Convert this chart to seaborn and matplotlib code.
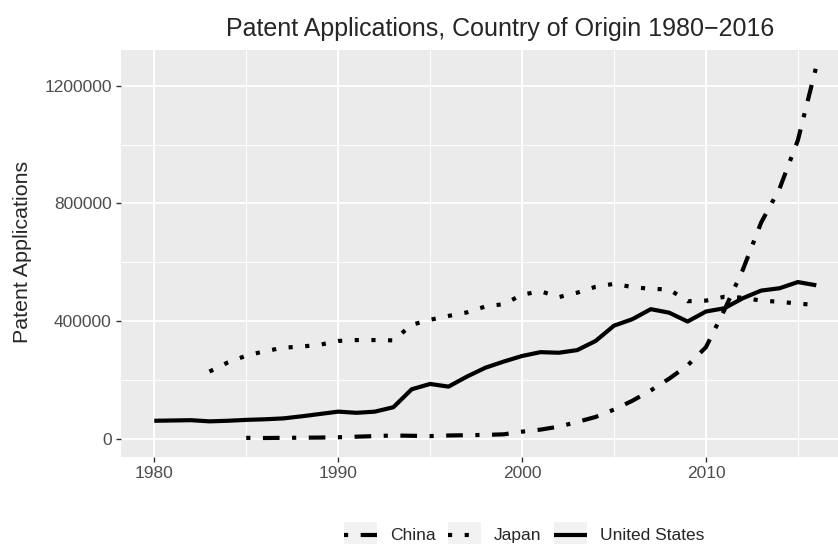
import pandas as pd
import matplotlib.pyplot as plt
import seaborn as sns
from matplotlib.lines import Line2D
from matplotlib.patches import Rectangle
from matplotlib.legend_handler import HandlerLine2D
from matplotlib.ticker import MultipleLocator

# ── DATA ──────────────────────────────────────────────
us_years = list(range(1980, 2017))
us_apps = [62000, 63000, 64000, 60000, 62000, 65000, 67000, 70000, 77000, 85000,
           93000, 89000, 93000, 108000, 169000, 187000, 178000, 212000, 242000, 263000,
           282000, 295000, 293000, 302000, 333000, 385000, 407000, 441000, 429000, 399000,
           433000, 444000, 478000, 504000, 512000, 533000, 522000]

japan_years = list(range(1983, 2017))
japan_apps = [229000, 260000, 283000, 298000, 310000, 314000, 320000, 333000, 336000, 336000,
              335000, 388000, 405000, 418000, 430000, 450000, 458000, 490000, 502000, 482000,
              497000, 517000, 527000, 516000, 510000, 508000, 468000, 470000, 483000, 480000,
              470000, 466000, 460000, 455000]

china_years = list(range(1985, 2017))
china_apps = [4000, 3500, 4000, 4500, 5000, 6000, 8000, 10000, 12000, 11000,
              10000, 12000, 13000, 14000, 16000, 25000, 32000, 42000, 58000, 75000,
              100000, 130000, 165000, 205000, 250000, 312000, 438000, 574000, 735000, 850000,
              1015000, 1265000]

countries = ['China', 'Japan', 'United States']
x_ticks = [1980, 1990, 2000, 2010]
y_ticks = [0, 400000, 800000, 1200000]
y_tick_labels = ['0', '400000', '800000', '1200000']

df = pd.concat([
    pd.DataFrame({'year': china_years, 'apps': china_apps, 'country': 'China'}),
    pd.DataFrame({'year': japan_years, 'apps': japan_apps, 'country': 'Japan'}),
    pd.DataFrame({'year': us_years, 'apps': us_apps, 'country': 'United States'}),
])

# ggplot-ish linetypes: dotdash, dotted, solid
dash_map = {'China': (1, 3, 4, 3), 'Japan': (1, 3), 'United States': ''}

# ── STYLE ─────────────────────────────────────────────
sns.set_theme(style='darkgrid', rc={
    'axes.facecolor': '#EBEBEB',
    'grid.color': 'white',
    'axes.edgecolor': '#EBEBEB',
})
plt.rcParams['font.family'] = ['Liberation Sans', 'DejaVu Sans']

fig = plt.figure(figsize=(8.38, 5.44), dpi=100)
ax = fig.add_axes([121 / 838, (544 - 456.7) / 544, (838 - 121) / 838, (456.7 - 50) / 544])

sns.lineplot(data=df, x='year', y='apps', style='country', style_order=countries,
             dashes=dash_map, color='black', linewidth=3, legend=False, ax=ax,
             solid_capstyle='butt', solid_joinstyle='round')

ax.set_xlim(1978.19, 2017.18)
ax.set_ylim(-60000, 1321000)
ax.set_xticks(x_ticks)
ax.set_yticks(y_ticks, y_tick_labels)
ax.xaxis.set_minor_locator(MultipleLocator(5))
ax.yaxis.set_minor_locator(MultipleLocator(200000))
ax.grid(which='major', color='white', linewidth=1.4)
ax.grid(which='minor', color='white', linewidth=0.7)
ax.tick_params(which='major', length=3.6, width=1.0, color='#333333',
               labelcolor='#4D4D4D', labelsize=12.5, pad=3)
ax.tick_params(which='minor', length=0)
ax.tick_params(axis='x', bottom=True)
ax.tick_params(axis='y', left=True)
for s in ax.spines.values():
    s.set_visible(False)
ax.set_xlabel('')
ax.set_ylabel('')

fig.text(500 / 838, 1 - 29 / 544, 'Patent Applications, Country of Origin 1980\u22122016',
         ha='center', va='center', fontsize=18)
fig.text(23 / 838, 1 - 251.5 / 544, 'Patent Applications', rotation=90,
         ha='center', va='center', fontsize=15.4)


# legend keys with the grey ggplot key background
class KeyHandler(HandlerLine2D):
    def create_artists(self, legend, orig_handle, xdescent, ydescent, width, height, fontsize, trans):
        bg = Rectangle((-xdescent, -ydescent), width, height, facecolor='#F2F2F2',
                       edgecolor='none', transform=trans)
        line = Line2D([-xdescent, -xdescent + width], [height / 2 - ydescent] * 2)
        line.update_from(orig_handle)
        line.set_transform(trans)
        return [bg, line]


handles = []
for c in countries:
    h = Line2D([], [], color='black', linewidth=3, solid_capstyle='butt', dash_capstyle='butt')
    if dash_map[c]:
        h.set_dashes(dash_map[c])
    handles.append(h)

fig.legend(handles, countries, loc='center', bbox_to_anchor=(524 / 838, 1 - 534.5 / 544),
           ncol=3, frameon=False, fontsize=12.5, handlelength=1.9, handleheight=1.9,
           handletextpad=0.75, columnspacing=0.7, borderaxespad=0, borderpad=0,
           handler_map={Line2D: KeyHandler()})

plt.savefig('out.png', dpi=100)
